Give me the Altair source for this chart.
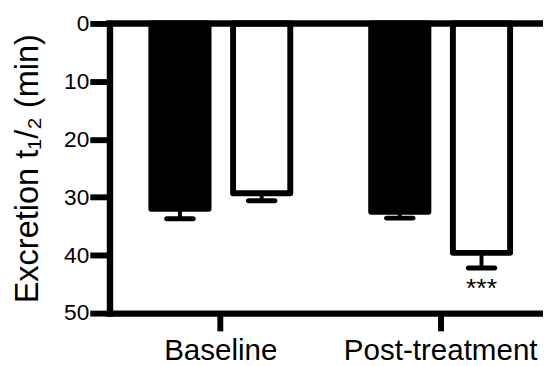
import altair as alt
import pandas as pd

# ---- data ----
groups = ["Baseline", "Post-treatment"]
series = ["Filled", "Open"]
group_col = ["Baseline", "Baseline", "Post-treatment", "Post-treatment"]
series_col = ["Filled", "Open", "Filled", "Open"]
mean_vals = [32.0, 29.3, 32.5, 39.6]
sem_vals = [1.7, 1.3, 1.1, 2.6]
sig_marks = ["", "", "", "***"]
y_ticks = [0, 10, 20, 30, 40, 50]

df = pd.DataFrame({
    "group": group_col,
    "series": series_col,
    "mean": mean_vals,
    "sem": sem_vals,
    "sig": sig_marks,
})
df["upper"] = df["mean"] + df["sem"]

FONT = "Liberation Sans"

x_enc = alt.X(
    "group:N",
    sort=groups,
    scale=alt.Scale(paddingInner=0.368, paddingOuter=0.17, align=0.56),
    axis=alt.Axis(
        title=None, labelAngle=0, labelFontSize=30, labelFont=FONT,
        labelColor="black", labelPadding=5, labelBaseline="top", labelLimit=400,
        tickSize=18, tickWidth=6, tickColor="black",
        domainWidth=6.5, domainColor="black", domainCap="square",
    ),
)
xo_enc = alt.XOffset(
    "series:N", sort=series,
    scale=alt.Scale(paddingInner=0.3, paddingOuter=0),
)
y_scale = alt.Scale(domain=[0, 50], reverse=True, nice=False, zero=True)
y_enc = alt.Y(
    "mean:Q",
    scale=y_scale,
    axis=alt.Axis(
        values=y_ticks, grid=False,
        title="Excretion t\u2081/\u2082 (min)", titleFont=FONT, titleFontSize=33,
        titleFontWeight="normal", titleColor="black", titleAngle=270,
        titleAlign="center", titleBaseline="alphabetic", titleX=-73, titleY=147,
        labelFontSize=23, labelFont=FONT, labelColor="black", labelPadding=1,
        tickSize=20, tickWidth=6, tickColor="black",
        domainWidth=6.5, domainColor="black", domainCap="square",
    ),
)

base = alt.Chart(df)

bars = base.mark_bar(stroke="black", strokeWidth=6, strokeJoin="round").encode(
    x=x_enc,
    xOffset=xo_enc,
    y=y_enc,
    fill=alt.Fill("series:N", scale=alt.Scale(domain=series, range=["black", "white"]), legend=None),
)

stems = base.mark_rule(color="black", strokeWidth=4).encode(
    x=x_enc, xOffset=xo_enc, y="mean:Q", y2="upper:Q",
)

caps = base.mark_tick(color="black", size=32, thickness=5, cornerRadius=2.5, opacity=1).encode(
    x=x_enc, xOffset=xo_enc, y="upper:Q",
)

stars = base.mark_text(fontSize=27, font=FONT, color="black", baseline="alphabetic", dy=30).encode(
    x=x_enc, xOffset=xo_enc, y="upper:Q", text="sig:N",
)

zero_line = alt.Chart(pd.DataFrame({"z": [0]})).mark_rule(
    color="black", strokeWidth=6.5, strokeCap="square"
).encode(y=alt.Y("z:Q", scale=y_scale))

chart = alt.layer(bars, stems, caps, stars, zero_line).properties(
    width=440, height=294,
    autosize=alt.AutoSizeParams(type="none"),
    padding={"left": 103, "top": 13, "right": 0, "bottom": 50},
).configure_view(strokeWidth=0).configure(background="white")

chart.save("out.html", embed_options={"renderer": "svg", "actions": False})
